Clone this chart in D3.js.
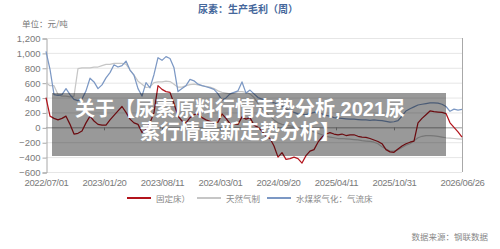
<!DOCTYPE html>
<html lang="zh">
<head>
<meta charset="UTF-8">
<title>尿素：生产毛利（周）</title>
<style>
    body {
        margin: 0;
        padding: 0;
        background: #fff;
        font-family: "Noto Sans CJK SC", "Noto Sans", sans-serif;
    }
    #wrap { position: relative; width: 500px; height: 249px; }
    svg { display: block; }
    #caption {
        position: absolute;
        left: 40px;
        top: 98px;
        width: 400px;
        text-align: center;
        color: #fff;
        font-family: "Liberation Sans", "Noto Sans CJK SC", sans-serif;
        font-size: 20px;
        font-weight: bold;
        line-height: 22.5px;
    }
</style>
</head>
<body>
<div id="wrap">
    <svg id="chart" width="500" height="249"></svg>
    <div id="caption"></div>
</div>

<script src="https://d3js.org/d3.v7.min.js"></script>
<script>
    // biweekly samples starting 2022/07/01
    const startDate = "2022-07-01";
    const stepDays = 14;

    const tickLabels = ["2022/07/01", "2023/01/20", "2023/08/11", "2024/03/01",
        "2024/09/20", "2025/04/11", "2025/10/31", "2026/06/26"];
    const yTicks = [-600, -400, -200, 0, 200, 400, 600, 800, 1000, 1200];

    // 固定床
    const fixedBed = [400, 150, 120, 100, 120, 150, 40, -90, -80, -50,
        60, 150, 85, 40, 30, 30, 100, 160, 220, 280,
        200, 110, 60, 40, -70, -30, 60, 200, 560, 510,
        480, 470, 320, 150, 85, 60, 130, 170, 180, 130,
        100, 80, 60, 70, 180, 120, 50, 45, 40, 140,
        110, 130, 30, 0, -50, -120, -150, -250, -400, -340,
        -430, -420, -400, -420, -480, -380, -320, -300, -200, -130,
        -90, -70, -90, -100, -90, -110, -100, -100, -120, -130,
        -135, -150, -170, -190, -220, -300, -330, -335, -290, -250,
        -220, -200, -185, 60, 120, 170, 220, 210, 205, 200,
        185, 60, 0, -60, -130];

    // 天然气制
    const naturalGas = [600, 560, 560, 440, 420, 420, 410, 420, 790, 800,
        800, 800, 810, 810, 830, 845, 845, 860, 860, 860,
        850, 770, 700, 620, 580, 535, 545, 600, 610, 610,
        620, 615, 580, 540, 540, 560, 575, 580, 570, 560,
        550, 540, 520, 490, 470, 460, 450, 460, 480, 480,
        470, 450, 400, 320, 250, 200, 150, 100, 60, 40,
        30, 20, 10, 0, -10, -30, -40, -60, -80, -100,
        -120, -130, -140, -150, -150, -155, -160, -165, -170, -180,
        -185, -190, -200, -220, -260, -290, -320, -320, -300, -270,
        -240, -220, -180, -140, -120, -110, -110, -115, -120, -130,
        -140, -145, -150, -155, -160];

    // 水煤浆气化：气流床
    const slurryGasification = [1020, 780, 440, 430, 440, 520, 440, 375, 360, 380,
        490, 660, 610, 520, 570, 665, 735, 840, 810, 830,
        890, 770, 700, 520, 420, 600, 530, 710, 935, 900,
        950, 925, 800, 480, 520, 560, 645, 625, 580, 560,
        545, 530, 510, 450, 365, 395, 450, 470, 490, 610,
        460, 500, 450, 400, 380, 355, 340, 330, 310, 285,
        245, 225, 200, 180, 175, 170, 185, 200, 210, 180,
        160, 150, 130, 125, 120, 115, 110, 110, 105, 100,
        100, 95, 100, 95, 90, 80, 70, 75, 90, 150,
        220, 250, 275, 300, 310, 320, 330, 330, 325, 310,
        280, 215, 245, 230, 240];

    const seriesNames = ["固定床）", "天然气制", "水煤浆气化：气流床"];
    const seriesColors = ["#b3141c", "#c6c6c6", "#7c98c4"];

    const svg = d3.select("#chart");
    const parseSlash = d3.timeParse("%Y/%m/%d");
    const start = d3.timeParse("%Y-%m-%d")(startDate);
    const numFont = "'Liberation Sans', Arial, sans-serif";

    const plot = { left: 46, right: 462, top: 38, bottom: 172 };

    const x = d3.scaleTime()
        .domain([parseSlash(tickLabels[0]), parseSlash(tickLabels[tickLabels.length - 1])])
        .range([plot.left, plot.right]);

    const y = d3.scaleLinear()
        .domain([-600, 1200])
        .range([plot.bottom, plot.top]);

    // title & unit
    svg.append("text")
        .attr("x", 248).attr("y", 13)
        .attr("text-anchor", "middle")
        .attr("fill", "#45679b")
        .attr("font-size", 10)
        .attr("font-weight", "bold")
        .text("尿素：生产毛利（周）");

    svg.append("text")
        .attr("x", 22).attr("y", 27)
        .attr("fill", "#777")
        .attr("font-size", 8.5)
        .text("单位：元/吨");

    // gridlines
    svg.append("g")
        .selectAll("line")
        .data(yTicks)
        .enter().append("line")
        .attr("x1", plot.left).attr("x2", plot.right)
        .attr("y1", d => y(d) + 0.5).attr("y2", d => y(d) + 0.5)
        .attr("stroke", d => d === 0 ? "#9a9a9a" : "#e6e6e6")
        .attr("stroke-width", 1);

    // y axis
    const yAxis = svg.append("g")
        .attr("transform", `translate(${plot.left + 0.5},0.5)`)
        .call(d3.axisLeft(y).tickValues(yTicks).tickSize(4).tickPadding(2)
            .tickFormat(d3.format(",")));
    yAxis.select(".domain").attr("stroke", "#a8a8a8");
    yAxis.selectAll(".tick line").attr("stroke", "#a8a8a8");
    yAxis.selectAll("text").attr("fill", "#7a7a7a").attr("font-size", 9.5)
        .attr("font-family", numFont);

    // right border
    svg.append("line")
        .attr("x1", plot.right + 0.5).attr("x2", plot.right + 0.5)
        .attr("y1", plot.top).attr("y2", plot.bottom)
        .attr("stroke", "#a8a8a8");

    // ticks on the zero line
    svg.append("g")
        .selectAll("line")
        .data(tickLabels.slice(1, -1))
        .enter().append("line")
        .attr("x1", d => x(parseSlash(d)) + 0.5).attr("x2", d => x(parseSlash(d)) + 0.5)
        .attr("y1", y(0)).attr("y2", y(0) + 3)
        .attr("stroke", "#9a9a9a");

    // x labels
    const xAxis = svg.append("g")
        .attr("transform", `translate(0,${plot.bottom + 3})`)
        .call(d3.axisBottom(x).tickValues(tickLabels.map(parseSlash)).tickSize(0).tickPadding(4)
            .tickFormat(d3.timeFormat("%Y/%m/%d")));
    xAxis.select(".domain").remove();
    xAxis.selectAll("text").attr("fill", "#7a7a7a").attr("font-size", 9.5)
        .attr("letter-spacing", "-0.35")
        .attr("font-family", numFont);

    // lines
    const allSeries = [naturalGas, slurryGasification, fixedBed];
    const order = [1, 2, 0];
    const line = d3.line()
        .x((d, i) => x(d3.timeDay.offset(start, i * stepDays)))
        .y(d => y(d));

    allSeries.forEach((vals, k) => {
        svg.append("path")
            .datum(vals)
            .attr("fill", "none")
            .attr("stroke", seriesColors[order[k]])
            .attr("stroke-width", 1.25)
            .attr("stroke-linejoin", "round")
            .attr("d", line);
    });

    // legend
    const legendX = [127, 197, 267];
    const legend = svg.append("g");
    seriesNames.forEach((name, i) => {
        legend.append("line")
            .attr("x1", legendX[i]).attr("x2", legendX[i] + 24)
            .attr("y1", 198).attr("y2", 198)
            .attr("stroke", seriesColors[i])
            .attr("stroke-width", 2);
        legend.append("text")
            .attr("x", legendX[i] + 29).attr("y", 201.5)
            .attr("fill", "#888")
            .attr("font-size", 8.5)
            .text(name);
    });

    // source
    svg.append("text")
        .attr("x", 488).attr("y", 240)
        .attr("text-anchor", "end")
        .attr("fill", "#888")
        .attr("font-size", 8.5)
        .text("数据来源：钢联数据");

    // overlay box; caption text sits on top as one html block
    svg.append("rect")
        .attr("x", 52).attr("y", 93)
        .attr("width", 394).attr("height", 63)
        .attr("fill", "rgba(0,0,0,0.4)");

    const caption = ["关于【尿素原料行情走势分析,2021尿", "素行情最新走势分析】"];
    d3.select("#caption").html(caption.join("<br>"));
</script>
</body>
</html>
